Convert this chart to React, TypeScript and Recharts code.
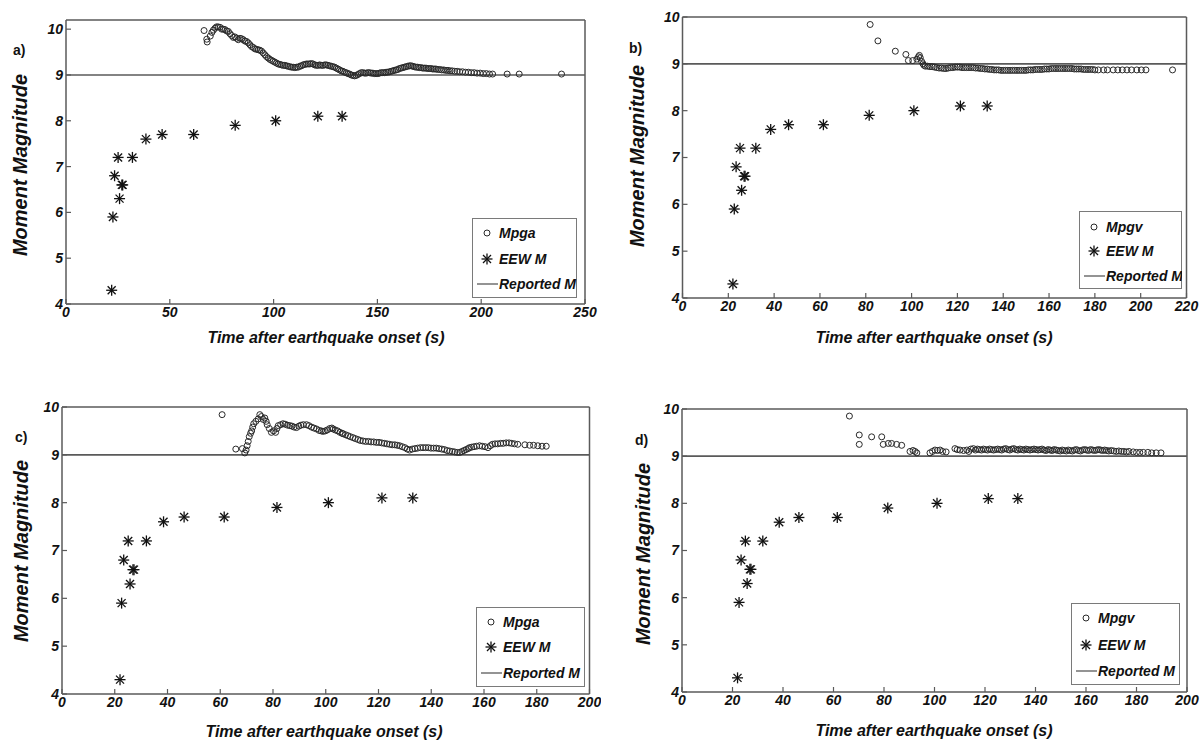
import React from 'react';
import { ScatterChart, Scatter, XAxis, YAxis, ReferenceLine, Legend } from 'recharts';

// ---------- DATA ----------
const eewTime = [22, 22.6, 23.4, 25.1, 25.8, 26.9, 27.3, 32, 38.5, 46.3, 61.5, 81.5, 101, 121.3, 133];
const eewMag = [4.3, 5.9, 6.8, 7.2, 6.3, 6.6, 6.6, 7.2, 7.6, 7.7, 7.7, 7.9, 8.0, 8.1, 8.1];
const reportedM = 9.0;

const yTicks = [4, 5, 6, 7, 8, 9, 10];
const xTicksA = [0, 50, 100, 150, 200, 250];
const xTicksB = [0, 20, 40, 60, 80, 100, 120, 140, 160, 180, 200, 220];
const xTicksCD = [0, 20, 40, 60, 80, 100, 120, 140, 160, 180, 200];

const mpgaA: [number, number][] = [
  [66.5, 9.97], [67.8, 9.78], [68, 9.72], [69.5, 9.85], [70.3, 9.93], [71, 9.98], [71.8, 10.02], [72.5, 10.05],
  [73.3, 10.05], [74.2, 10.04], [75, 10.0], [75.8, 10.0], [76.6, 9.99], [77.4, 9.96], [78.2, 9.95], [79, 9.9],
  [79.8, 9.86], [80.6, 9.82], [81.4, 9.83], [82.2, 9.8], [83, 9.77], [83.8, 9.8], [84.6, 9.79], [85.4, 9.77],
  [86.2, 9.74], [87, 9.73], [87.8, 9.7], [88.6, 9.66], [89.4, 9.62], [90.2, 9.6], [91, 9.57], [91.8, 9.56],
  [92.6, 9.55], [93.4, 9.54], [94.2, 9.52], [95, 9.48], [95.8, 9.44], [96.6, 9.4], [97.4, 9.37], [98.2, 9.34],
  [99, 9.32], [99.8, 9.3], [100.6, 9.28], [101.4, 9.26], [102.2, 9.24], [103, 9.23], [103.8, 9.22], [104.6, 9.21],
  [105.4, 9.21], [106.2, 9.2], [107, 9.19], [107.8, 9.18], [108.6, 9.17], [109.4, 9.17], [110.2, 9.16], [111, 9.17],
  [111.8, 9.17], [112.6, 9.19], [113.4, 9.2], [114.2, 9.22], [115, 9.23], [115.8, 9.24], [116.6, 9.24], [117.4, 9.24],
  [118.2, 9.25], [119, 9.24], [119.8, 9.22], [120.6, 9.21], [121.4, 9.21], [122.2, 9.22], [123, 9.21], [123.8, 9.21],
  [124.6, 9.22], [125.4, 9.22], [126.2, 9.21], [127, 9.2], [127.8, 9.19], [128.6, 9.18], [129.4, 9.17], [130.2, 9.15],
  [131, 9.13], [131.8, 9.11], [132.6, 9.09], [133.4, 9.08], [134.2, 9.06], [135, 9.05], [135.8, 9.03], [136.6, 9.02],
  [137.4, 9.0], [138.2, 8.99], [139, 8.98], [139.8, 8.99], [140.6, 9.01], [141.4, 9.03], [142.2, 9.05], [143, 9.05],
  [143.8, 9.04], [144.6, 9.04], [145.4, 9.05], [146.2, 9.05], [147, 9.04], [147.8, 9.04], [148.6, 9.03], [149.4, 9.03],
  [150.2, 9.03], [151, 9.04], [151.8, 9.05], [152.6, 9.05], [153.4, 9.05], [154.2, 9.06], [155, 9.06], [155.8, 9.07],
  [156.6, 9.08], [157.4, 9.09], [158.2, 9.1], [159, 9.11], [159.8, 9.12], [160.6, 9.14], [161.4, 9.15], [162.2, 9.16],
  [163, 9.17], [163.8, 9.18], [164.6, 9.19], [165.4, 9.2], [166.2, 9.2], [167, 9.19], [167.8, 9.18], [168.6, 9.17],
  [169.4, 9.17], [170.2, 9.16], [171, 9.16], [171.8, 9.15], [172.6, 9.15], [173.4, 9.15], [174.2, 9.14], [175, 9.14],
  [175.8, 9.14], [176.6, 9.13], [177.4, 9.13], [178.2, 9.13], [179, 9.12], [180, 9.12], [181, 9.11], [182, 9.11],
  [183, 9.1], [184, 9.1], [185, 9.09], [186, 9.09], [187.2, 9.08], [188.4, 9.08], [189.6, 9.07], [191, 9.07],
  [192.4, 9.06], [193.8, 9.06], [195.2, 9.05], [196.6, 9.05], [198, 9.04], [199.5, 9.04], [201, 9.03], [202.5, 9.03],
  [204, 9.02], [205.5, 9.02], [212.5, 9.02], [218.3, 9.02], [238.7, 9.02],
];

const mpgvB: [number, number][] = [
  [81.9, 9.84], [85.3, 9.49], [92.9, 9.27], [97.5, 9.2], [98.6, 9.07], [100.5, 9.07], [102.3, 9.1], [103, 9.15],
  [103.4, 9.18], [103.8, 9.13], [104.4, 9.05], [105, 9.0], [105.4, 8.97], [106, 8.95], [107, 8.95], [108, 8.94],
  [109, 8.94], [110, 8.93], [111, 8.92], [112, 8.91], [113, 8.91], [114, 8.9], [115, 8.9], [116, 8.91],
  [117, 8.92], [118, 8.92], [119, 8.93], [120, 8.93], [121, 8.93], [122, 8.92], [123, 8.92], [124, 8.92],
  [125, 8.92], [126, 8.92], [127, 8.92], [128, 8.91], [129, 8.91], [130, 8.9], [131, 8.9], [132, 8.89],
  [133, 8.89], [134, 8.88], [135, 8.88], [136, 8.87], [137, 8.87], [138, 8.87], [139, 8.86], [140, 8.86],
  [141, 8.86], [142, 8.86], [143, 8.86], [144, 8.86], [145, 8.86], [146, 8.86], [147, 8.86], [148, 8.86],
  [149, 8.86], [150, 8.86], [151, 8.87], [152, 8.87], [153, 8.87], [154, 8.88], [155, 8.88], [156, 8.88],
  [157, 8.88], [158, 8.89], [159, 8.89], [160, 8.89], [161, 8.9], [162, 8.9], [163, 8.9], [164, 8.9],
  [165, 8.9], [166, 8.9], [167, 8.9], [168, 8.9], [169, 8.9], [170, 8.9], [171, 8.89], [172, 8.89],
  [173, 8.89], [174, 8.89], [175, 8.88], [176, 8.88], [177, 8.88], [178, 8.88], [179, 8.88], [180, 8.87],
  [181.5, 8.87], [183.8, 8.87], [185.5, 8.87], [188, 8.87], [190, 8.87], [192, 8.87], [194, 8.87], [196, 8.87],
  [198.3, 8.87], [200.3, 8.87], [202.3, 8.87], [213.9, 8.87],
];

const mpgaC: [number, number][] = [
  [60.7, 9.84], [65.9, 9.12], [68.4, 9.13], [69.3, 9.04], [69.8, 9.1], [70.2, 9.19], [70.6, 9.28], [71, 9.38],
  [71.5, 9.45], [71.9, 9.5], [72.3, 9.58], [72.7, 9.65], [73.5, 9.7], [74.4, 9.75], [75, 9.84], [75.6, 9.8],
  [76.3, 9.74], [76.9, 9.77], [77.4, 9.7], [77.8, 9.63], [78.6, 9.55], [79.4, 9.47], [80.2, 9.5], [81, 9.47],
  [81.5, 9.55], [82, 9.61], [82.9, 9.63], [83.8, 9.65], [84.6, 9.64], [85.5, 9.62], [86.4, 9.61], [87.2, 9.6],
  [88, 9.58], [88.9, 9.57], [89.8, 9.6], [90.6, 9.62], [91.5, 9.63], [92.7, 9.63], [93.6, 9.61], [94.6, 9.58],
  [95.5, 9.56], [96.5, 9.54], [97.5, 9.51], [98.3, 9.5], [99, 9.49], [99.8, 9.5], [100.6, 9.52], [101.5, 9.55],
  [102.3, 9.56], [102.8, 9.54], [103.6, 9.52], [104.5, 9.5], [105.4, 9.47], [106.2, 9.45], [106.6, 9.44], [107.5, 9.42],
  [108.4, 9.4], [109.3, 9.38], [110.3, 9.36], [111.2, 9.34], [112.2, 9.32], [113.1, 9.3], [114.1, 9.29], [115.1, 9.28],
  [116.2, 9.28], [117.2, 9.27], [118.2, 9.27], [119.2, 9.26], [120.2, 9.26], [121.2, 9.25], [122.2, 9.24], [123.2, 9.23],
  [124.2, 9.22], [125.2, 9.21], [126.2, 9.21], [127.1, 9.2], [128, 9.19], [129, 9.17], [130, 9.15], [130.9, 9.12],
  [131.8, 9.1], [132.8, 9.12], [133.8, 9.13], [134.8, 9.14], [135.9, 9.15], [136.9, 9.15], [137.9, 9.15], [138.9, 9.15],
  [139.9, 9.14], [140.9, 9.14], [141.9, 9.14], [142.9, 9.13], [144, 9.12], [145, 9.11], [146, 9.09], [147, 9.08],
  [148, 9.07], [148.9, 9.06], [149.9, 9.05], [150.8, 9.05], [151.6, 9.07], [152.4, 9.09], [153.2, 9.11], [154, 9.13],
  [154.5, 9.15], [155.3, 9.16], [156.2, 9.17], [157.2, 9.18], [158.3, 9.19], [159.3, 9.18], [160.4, 9.17], [161.5, 9.15],
  [162.4, 9.19], [163.2, 9.22], [164.2, 9.23], [165.2, 9.23], [166.3, 9.24], [167.3, 9.24], [168.4, 9.25], [169.5, 9.25],
  [170.5, 9.24], [171.6, 9.23], [172.8, 9.22], [175.5, 9.21], [177.3, 9.2], [178.8, 9.2], [180.4, 9.19], [182, 9.18],
  [183.6, 9.18],
];

const mpgvD: [number, number][] = [
  [66.3, 9.85], [70.2, 9.45], [70.2, 9.25], [75.1, 9.41], [79.1, 9.41], [79.7, 9.25], [81.7, 9.27], [83, 9.27],
  [85, 9.25], [87, 9.23], [90.3, 9.1], [91.5, 9.12], [92.3, 9.1], [93, 9.07], [98.2, 9.07], [99.2, 9.1],
  [100.2, 9.13], [101.2, 9.12], [102.2, 9.13], [103.2, 9.1], [104.6, 9.09], [108.1, 9.16], [109, 9.14], [110.1, 9.13],
  [111.5, 9.12], [112.8, 9.13], [113.6, 9.1], [114.4, 9.15], [115.4, 9.16], [116.2, 9.13], [117, 9.15], [117.8, 9.14],
  [118.6, 9.13], [119.4, 9.15], [120.2, 9.14], [121, 9.13], [121.8, 9.15], [122.6, 9.14], [123.4, 9.13], [124.2, 9.14],
  [125, 9.15], [125.8, 9.14], [126.6, 9.13], [127.4, 9.15], [128.2, 9.16], [129, 9.14], [129.8, 9.13], [130.6, 9.15],
  [131.4, 9.16], [132.2, 9.14], [133, 9.13], [133.8, 9.15], [134.6, 9.14], [135.4, 9.13], [136.2, 9.15], [137, 9.14],
  [137.8, 9.13], [138.6, 9.14], [139.4, 9.15], [140.2, 9.14], [141, 9.13], [141.8, 9.14], [142.6, 9.15], [143.4, 9.13],
  [144.2, 9.12], [145, 9.14], [145.8, 9.13], [146.6, 9.12], [147.4, 9.14], [148.2, 9.13], [149, 9.12], [149.8, 9.11],
  [150.6, 9.13], [151.4, 9.12], [152.2, 9.11], [153, 9.13], [153.8, 9.12], [154.6, 9.11], [155.4, 9.13], [156.2, 9.14],
  [157, 9.12], [157.8, 9.11], [158.6, 9.13], [159.4, 9.14], [160.2, 9.13], [161, 9.12], [161.8, 9.14], [162.6, 9.13],
  [163.4, 9.12], [164.2, 9.13], [165, 9.14], [165.8, 9.13], [166.6, 9.12], [167.4, 9.13], [168.2, 9.12], [169, 9.11],
  [170, 9.12], [171, 9.11], [172, 9.1], [173, 9.11], [174, 9.1], [175, 9.1], [176, 9.09], [177, 9.1],
  [178.7, 9.09], [180, 9.08], [181.3, 9.08], [182.7, 9.08], [184.5, 9.08], [186, 9.07], [187.8, 9.07], [189.7, 9.07],
];

// ---------- STYLE ----------
const FONT = "'Liberation Sans', Arial, Helvetica, sans-serif";
const AXIS_COLOR = '#5a5a5a';
const TEXT_COLOR = '#111';
const tickStyle = { fontFamily: FONT, fontSize: 14, fontWeight: 'bold', fontStyle: 'italic', fill: TEXT_COLOR };

const CircleShape = (props: any) => (
  <circle cx={props.cx} cy={props.cy} r={3} fill="none" stroke="#2a2a2a" strokeWidth={1} />
);

const StarShape = (props: any) => {
  const { cx, cy } = props;
  const s = 5.5;
  const d = 4;
  return (
    <g stroke="#111" strokeWidth={1.3}>
      <line x1={cx - s} y1={cy} x2={cx + s} y2={cy} />
      <line x1={cx} y1={cy - s} x2={cx} y2={cy + s} />
      <line x1={cx - d} y1={cy - d} x2={cx + d} y2={cy + d} />
      <line x1={cx - d} y1={cy + d} x2={cx + d} y2={cy - d} />
    </g>
  );
};

type PanelCfg = {
  letter: string;
  seriesName: string;
  points: [number, number][];
  left: number;
  top: number;
  width: number;
  height: number;
  margin: { top: number; right: number; bottom: number; left: number };
  yAxisWidth: number;
  xDomain: [number, number];
  xTicks: number[];
  yDomain: [number, number];
  letterPos: [number, number];
  yLabelPos: [number, number];
  xLabelPos: [number, number];
  legendBox: { left: number; top: number; width: number; height: number; rows: number[] };
};

const panels: PanelCfg[] = [
  {
    letter: 'a)', seriesName: 'Mpga', points: mpgaA,
    left: 0, top: 0, width: 601, height: 371,
    margin: { top: 20, right: 16, bottom: 37, left: 0 }, yAxisWidth: 66,
    xDomain: [0, 250], xTicks: xTicksA, yDomain: [4, 10.2],
    letterPos: [13, 55], yLabelPos: [27, 165], xLabelPos: [326, 343],
    legendBox: { left: 472, top: 218, width: 105, height: 80, rows: [15, 41, 66] },
  },
  {
    letter: 'b)', seriesName: 'Mpgv', points: mpgvB,
    left: 601, top: 0, width: 601, height: 371,
    margin: { top: 17, right: 15.5, bottom: 43, left: 0 }, yAxisWidth: 81.5,
    xDomain: [0, 220], xTicks: xTicksB, yDomain: [4, 10],
    letterPos: [28, 53], yLabelPos: [43, 156], xLabelPos: [333, 343],
    legendBox: { left: 478, top: 211, width: 103, height: 78, rows: [16, 40, 65] },
  },
  {
    letter: 'c)', seriesName: 'Mpga', points: mpgaC,
    left: 0, top: 371, width: 601, height: 371,
    margin: { top: 36, right: 11.5, bottom: 18, left: 0 }, yAxisWidth: 62,
    xDomain: [0, 200], xTicks: xTicksCD, yDomain: [4, 10],
    letterPos: [15, 71], yLabelPos: [28, 180], xLabelPos: [324, 366],
    legendBox: { left: 476, top: 236, width: 109, height: 80, rows: [15, 40, 66] },
  },
  {
    letter: 'd)', seriesName: 'Mpgv', points: mpgvD,
    left: 601, top: 371, width: 601, height: 371,
    margin: { top: 38, right: 15, bottom: 20, left: 0 }, yAxisWidth: 81,
    xDomain: [0, 200], xTicks: xTicksCD, yDomain: [4, 10],
    letterPos: [34, 74], yLabelPos: [48.5, 183], xLabelPos: [333, 365],
    legendBox: { left: 470, top: 232, width: 109, height: 82, rows: [15, 42, 68] },
  },
];

const textProps = { fontFamily: FONT, fontWeight: 'bold' as const, fontStyle: 'italic' as const, fill: TEXT_COLOR };

function PanelLegend({ cfg }: { cfg: PanelCfg }) {
  const { width, height, rows } = cfg.legendBox;
  const mx = 15;
  const tx = 27;
  return (
    <svg width={width} height={height} style={{ display: 'block', background: '#fff' }}>
      <rect x={0.5} y={0.5} width={width - 1} height={height - 1} fill="#fff" stroke="#7a7a7a" strokeWidth={1} />
      <CircleShape cx={mx} cy={rows[0]} />
      <text x={tx} y={rows[0] + 5} fontSize={14} {...textProps}>{cfg.seriesName}</text>
      <StarShape cx={mx} cy={rows[1]} />
      <text x={tx} y={rows[1] + 5} fontSize={14} {...textProps}>EEW M</text>
      <line x1={5} y1={rows[2]} x2={tx - 1} y2={rows[2]} stroke={AXIS_COLOR} strokeWidth={1.3} />
      <text x={tx} y={rows[2] + 5} fontSize={14} {...textProps}>Reported M</text>
    </svg>
  );
}

function Panel({ cfg }: { cfg: PanelCfg }) {
  const circleData = cfg.points.map(([t, m]) => ({ t, m }));
  const eewData = eewTime.map((t, i) => ({ t, m: eewMag[i] }));
  const axisLine = { stroke: AXIS_COLOR, strokeWidth: 1.5 };
  const tickLine = { stroke: AXIS_COLOR, strokeWidth: 1.2 };

  const yLabel = () => (
    <g>
      <text
        x={cfg.yLabelPos[0]}
        y={cfg.yLabelPos[1]}
        transform={`rotate(-90, ${cfg.yLabelPos[0]}, ${cfg.yLabelPos[1]})`}
        textAnchor="middle"
        fontSize={20}
        {...textProps}
      >
        Moment Magnitude
      </text>
      <text x={cfg.letterPos[0]} y={cfg.letterPos[1]} fontSize={14} fontFamily={FONT} fontWeight="bold" fill={TEXT_COLOR}>
        {cfg.letter}
      </text>
    </g>
  );
  const xLabel = () => (
    <text x={cfg.xLabelPos[0]} y={cfg.xLabelPos[1]} textAnchor="middle" fontSize={16} {...textProps}>
      Time after earthquake onset (s)
    </text>
  );

  return (
    <div style={{ position: 'absolute', left: cfg.left, top: cfg.top, width: cfg.width, height: cfg.height }}>
      <ScatterChart width={cfg.width} height={cfg.height} margin={cfg.margin}>
        <XAxis
          xAxisId={0} type="number" dataKey="t" domain={cfg.xDomain} ticks={cfg.xTicks} interval={0}
          height={30} tickSize={-5} tickMargin={8} axisLine={axisLine} tickLine={tickLine} tick={tickStyle}
          label={xLabel}
        />
        <XAxis
          xAxisId="top" orientation="top" mirror type="number" domain={cfg.xDomain} ticks={cfg.xTicks}
          allowDataOverflow interval={0} tickSize={5} tick={false} axisLine={axisLine} tickLine={tickLine}
        />
        <YAxis
          yAxisId={0} type="number" dataKey="m" domain={cfg.yDomain} ticks={yTicks} interval={0}
          width={cfg.yAxisWidth} tickSize={-5} tickMargin={8} axisLine={axisLine} tickLine={tickLine} tick={tickStyle}
          label={yLabel}
        />
        <YAxis
          yAxisId="right" orientation="right" mirror type="number" domain={cfg.yDomain} ticks={yTicks}
          allowDataOverflow interval={0} tickSize={5} tick={false} axisLine={axisLine} tickLine={tickLine}
        />
        <ReferenceLine y={reportedM} stroke={AXIS_COLOR} strokeWidth={1.6} />
        <Scatter name={cfg.seriesName} data={circleData} dataKey="m" shape={CircleShape} isAnimationActive={false} />
        <Scatter name="EEW M" data={eewData} dataKey="m" shape={StarShape} isAnimationActive={false} />
        <Legend
          layout="horizontal"
          verticalAlign="middle"
          align="center"
          wrapperStyle={{
            left: cfg.legendBox.left,
            top: cfg.legendBox.top,
            width: cfg.legendBox.width,
            height: cfg.legendBox.height,
          }}
          content={() => <PanelLegend cfg={cfg} />}
        />
      </ScatterChart>
    </div>
  );
}

export default function App() {
  return (
    <div style={{ position: 'absolute', left: 0, top: 0, width: 1202, height: 742, background: '#fff' }}>
      {panels.map((p) => (
        <Panel key={p.letter} cfg={p} />
      ))}
    </div>
  );
}
